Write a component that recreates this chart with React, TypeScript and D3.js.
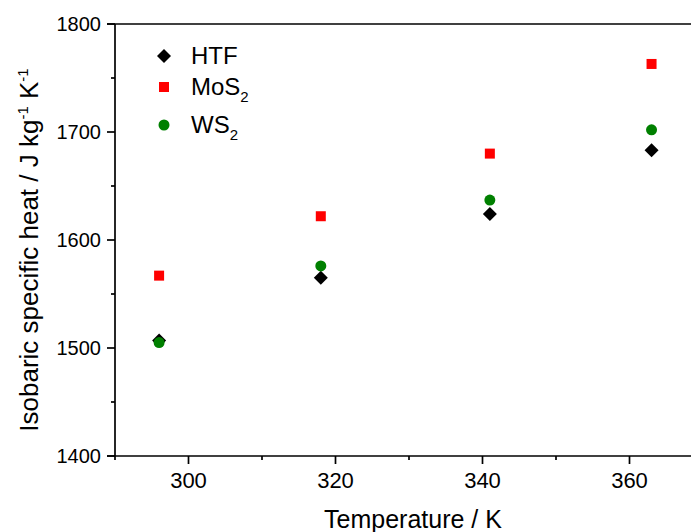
import React from "react";
import * as d3 from "d3";

const temps = [296, 318, 341, 363];
const htf = [1507, 1565, 1624, 1683];
const mos2 = [1567, 1622, 1680, 1763];
const ws2 = [1505, 1576, 1637, 1702];
const xMajor = [300, 320, 340, 360];
const xMinor = [290, 310, 330, 350, 370];
const yMajor = [1400, 1500, 1600, 1700, 1800];
const yMinor = [1450, 1550, 1650, 1750];

const W = 691, H = 532;
const FONT = "'Liberation Sans', Arial, sans-serif";

export default function App() {
  const x = d3.scaleLinear().domain([290, 370]).range([115, 703]);
  const y = d3.scaleLinear().domain([1400, 1800]).range([456, 24]);
  const x0 = x(290), y0 = y(1400), yTop = y(1800);
  const diamond = (cx: number, cy: number, r: number) =>
    `M${cx},${cy - r}L${cx + r},${cy}L${cx},${cy + r}L${cx - r},${cy}Z`;
  const sq = 10;
  return (
    <svg width={W} height={H} style={{ position: "absolute", left: 0, top: 0, display: "block", background: "#fff" }} fontFamily={FONT}>
      {/* axes lines */}
      <g stroke="#000" strokeWidth={1.7} fill="none">
        <line x1={x0 - 8} y1={yTop} x2={W + 20} y2={yTop} />
        <line x1={x0} y1={yTop} x2={x0} y2={y0} />
        <line x1={x0 - 8} y1={y0} x2={W + 20} y2={y0} />
        {xMajor.map((v) => (
          <line key={"xm" + v} x1={x(v)} x2={x(v)} y1={y0} y2={y0 + 8} />
        ))}
        {xMinor.map((v) => (
          <line key={"xn" + v} x1={x(v)} x2={x(v)} y1={y0} y2={y0 + 4} />
        ))}
        {yMajor.map((v) => (
          <line key={"ym" + v} x1={x0 - 8} x2={x0} y1={y(v)} y2={y(v)} />
        ))}
        {yMinor.map((v) => (
          <line key={"yn" + v} x1={x0 - 4} x2={x0} y1={y(v)} y2={y(v)} />
        ))}
      </g>
      {/* tick labels */}
      <g fill="#000">
        {xMajor.map((v) => (
          <text key={"xl" + v} x={x(v)} y={488} textAnchor="middle" fontSize={22}>{v}</text>
        ))}
        {yMajor.map((v) => (
          <text key={"yl" + v} x={x0 - 14} y={y(v) + 7} textAnchor="end" fontSize={20}>{v}</text>
        ))}
      </g>
      {/* axis titles */}
      <text x={413} y={528} textAnchor="middle" fontSize={25}>Temperature / K</text>
      <text transform={`translate(38,250) rotate(-90)`} textAnchor="middle" fontSize={26}>
        Isobaric specific heat / J kg<tspan fontSize={15} dy={-10}>-1</tspan><tspan dy={10}> K</tspan><tspan fontSize={15} dy={-10}>-1</tspan>
      </text>
      {/* data */}
      <g>
        {temps.map((t, i) => (
          <path key={"h" + i} d={diamond(x(t), y(htf[i]), 7)} fill="#000" />
        ))}
        {temps.map((t, i) => (
          <rect key={"m" + i} x={x(t) - sq / 2} y={y(mos2[i]) - sq / 2} width={sq} height={sq} fill="#ff0000" />
        ))}
        {temps.map((t, i) => (
          <circle key={"w" + i} cx={x(t)} cy={y(ws2[i])} r={5.5} fill="#008000" />
        ))}
      </g>
      {/* legend */}
      <g fontSize={24}>
        <path d={diamond(164, 56, 7)} fill="#000" />
        <text x={191} y={64}>HTF</text>
        <rect x={164 - sq / 2} y={87 - sq / 2} width={sq} height={sq} fill="#ff0000" />
        <text x={191} y={95}>MoS<tspan fontSize={15} dy={7}>2</tspan></text>
        <circle cx={164} cy={125} r={5.5} fill="#008000" />
        <text x={191} y={133}>WS<tspan fontSize={15} dy={7}>2</tspan></text>
      </g>
    </svg>
  );
}
